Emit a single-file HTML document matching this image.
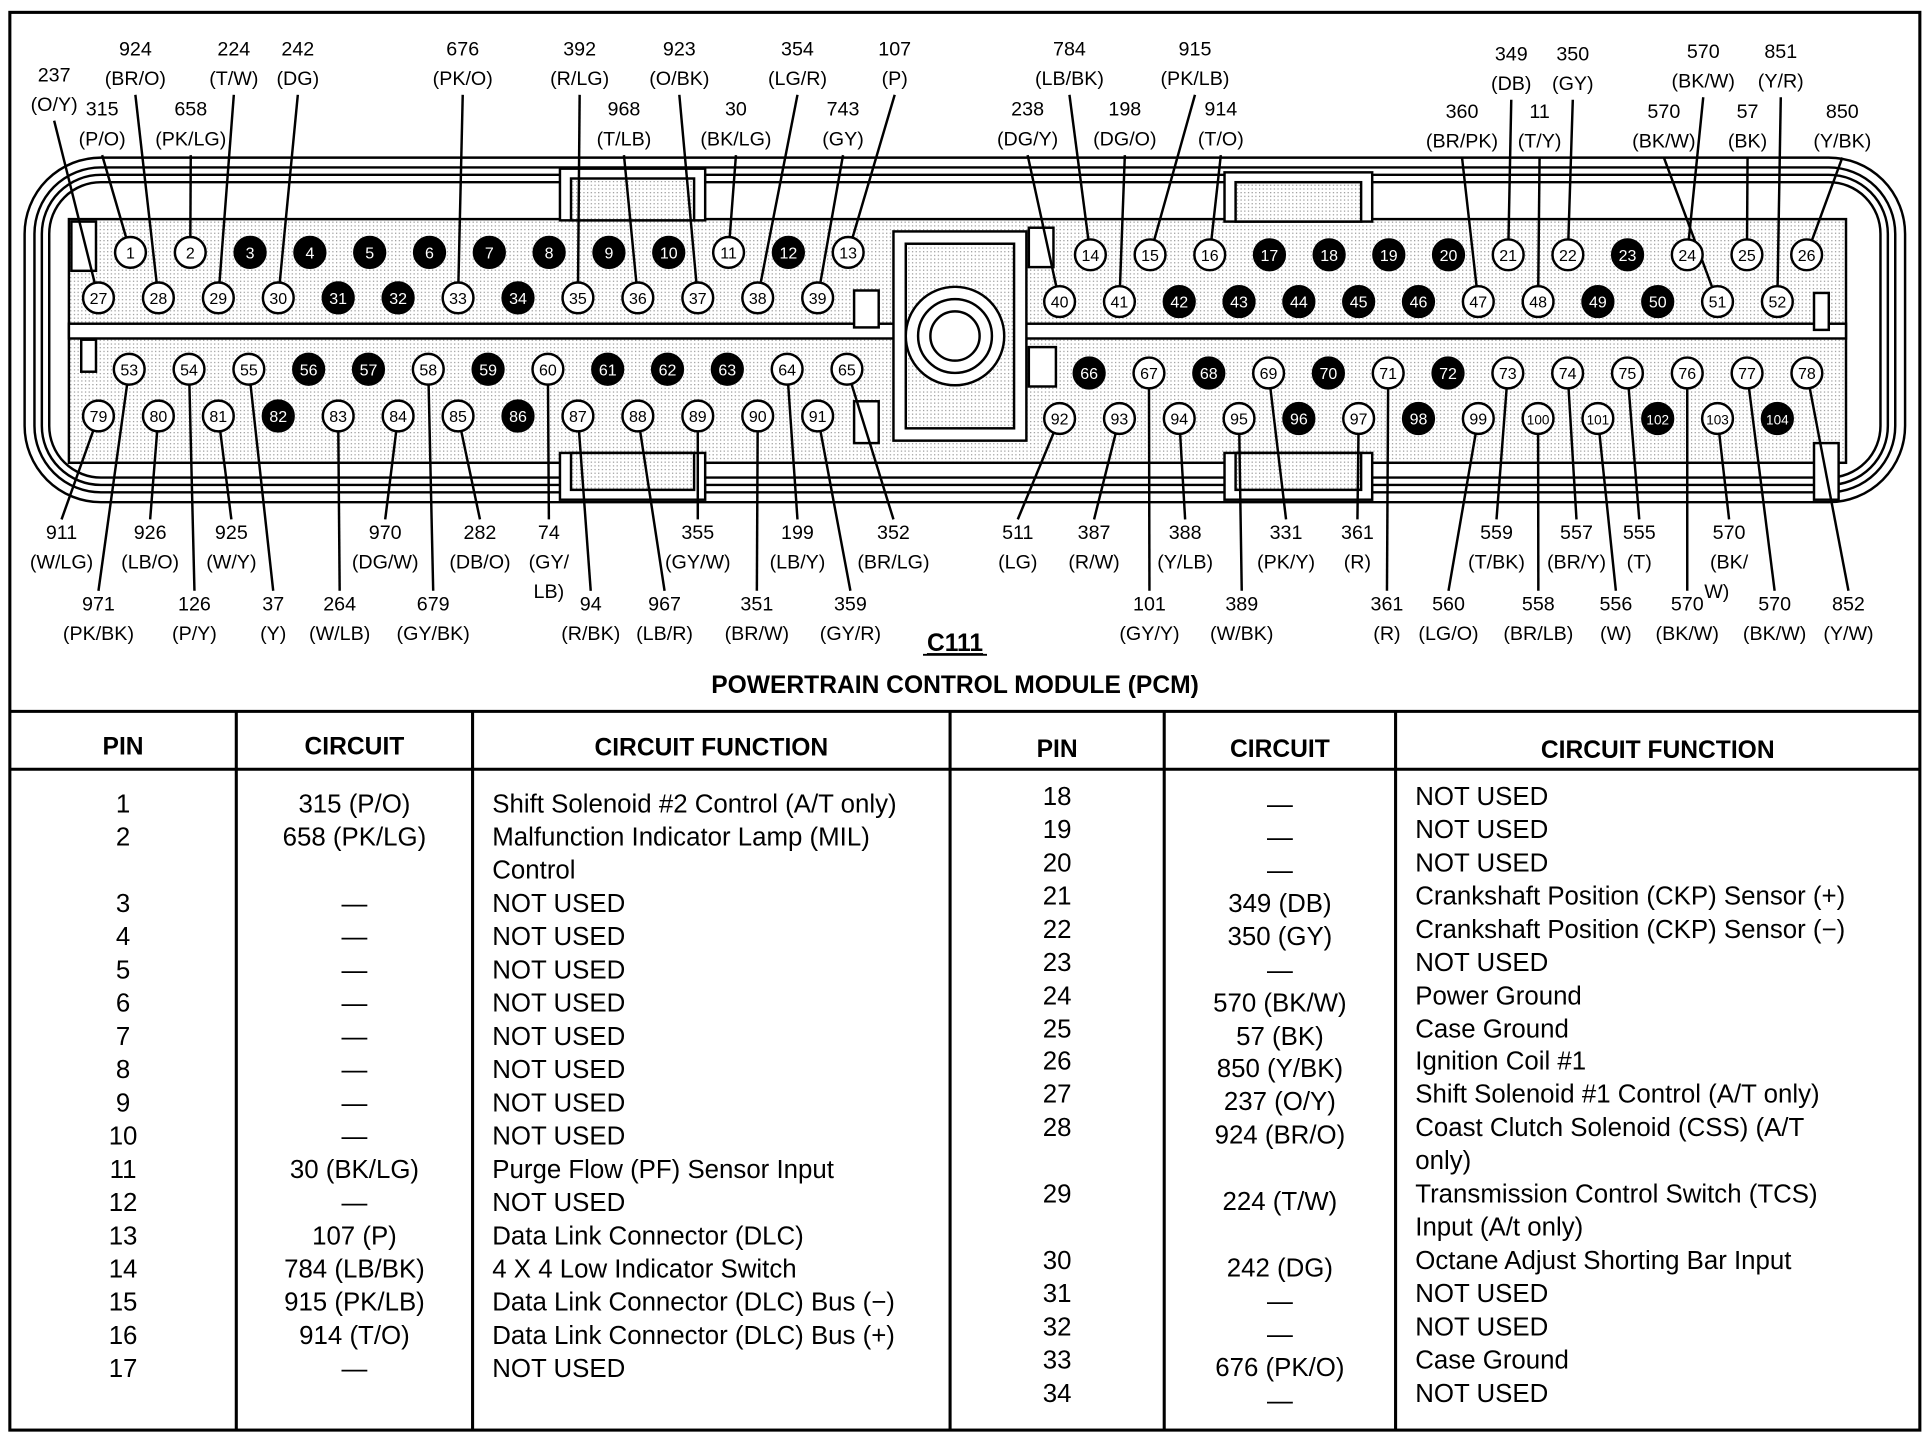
<!DOCTYPE html>
<html><head><meta charset="utf-8">
<style>
html,body{margin:0;padding:0;background:#fff;}
svg{display:block;}
text{font-family:"Liberation Sans",Arial,sans-serif;fill:#000;}
</style></head>
<body>
<svg id="s" width="1926" height="1440" viewBox="0 0 1565 1170" xmlns="http://www.w3.org/2000/svg">
<defs>
<pattern id="dots" width="3" height="3" patternUnits="userSpaceOnUse"><rect width="3" height="3" fill="#fff"/><rect width="1" height="1" fill="#999"/></pattern>
</defs>
<rect x="8" y="10" width="1552" height="1152" fill="none" stroke="#000" stroke-width="2.5"/>
<!-- connector body -->
<g fill="none" stroke="#000" stroke-width="2">
<rect x="20" y="128" width="1528" height="280" rx="62" fill="#fff"/>
<rect x="28" y="136" width="1512" height="264" rx="54"/>
<rect x="34" y="142" width="1500" height="252" rx="48"/>
<rect x="40" y="148" width="1488" height="240" rx="42"/>
<rect x="56" y="178" width="1444" height="198" fill="url(#dots)"/>
<rect x="56" y="263" width="1444" height="12" fill="#fff"/>
<rect x="726" y="188" width="108" height="170" fill="#fff"/>
<rect x="736" y="198" width="88" height="150" fill="url(#dots)"/>
<circle cx="776" cy="273" r="40" fill="#fff"/>
<circle cx="776" cy="273" r="30"/>
<circle cx="776" cy="273" r="20"/>
<rect x="455" y="137" width="118" height="42" fill="#fff"/>
<rect x="464" y="145" width="100" height="34" fill="url(#dots)"/>
<rect x="995" y="140" width="120" height="40" fill="#fff"/>
<rect x="1004" y="148" width="102" height="32" fill="url(#dots)"/>
<rect x="455" y="368" width="118" height="38" fill="#fff"/>
<rect x="464" y="368" width="100" height="30" fill="url(#dots)"/>
<rect x="995" y="368" width="120" height="38" fill="#fff"/>
<rect x="1004" y="368" width="102" height="30" fill="url(#dots)"/>
<rect x="58" y="180" width="20" height="40" fill="#fff"/>
<rect x="66" y="276" width="12" height="26" fill="#fff"/>
<rect x="836" y="185" width="20" height="32" fill="#fff"/>
<rect x="836" y="282" width="22" height="32" fill="#fff"/>
<rect x="694" y="236" width="20" height="30" fill="#fff"/>
<rect x="694" y="326" width="20" height="34" fill="#fff"/>
<rect x="1474" y="238" width="12" height="30" fill="#fff"/>
<rect x="1474" y="360" width="20" height="46" fill="#fff"/>
</g>
<g id="lines" stroke="#000" stroke-width="2" fill="none"></g>
<g id="pins"></g>
<g id="labels" font-size="16" text-anchor="middle"></g>
<text x="776" y="529" font-size="20" font-weight="bold" text-anchor="middle" text-decoration="underline">C111</text>
<line x1="750" y1="532" x2="802" y2="532" stroke="#000" stroke-width="1.5"/>
<text x="776" y="563" font-size="20" font-weight="bold" text-anchor="middle">POWERTRAIN CONTROL MODULE (PCM)</text>
<!-- table -->
<g stroke="#000" stroke-width="2.5">
<line x1="8" y1="578" x2="1560" y2="578"/>
<line x1="8" y1="625" x2="1560" y2="625"/>
<line x1="192" y1="578" x2="192" y2="1162"/>
<line x1="384" y1="578" x2="384" y2="1162"/>
<line x1="772" y1="578" x2="772" y2="1162"/>
<line x1="946" y1="578" x2="946" y2="1162"/>
<line x1="1134" y1="578" x2="1134" y2="1162"/>
</g>
<g font-size="20" font-weight="bold" text-anchor="middle">
<text x="100" y="613">PIN</text><text x="288" y="613">CIRCUIT</text><text x="578" y="614">CIRCUIT FUNCTION</text>
<text x="859" y="615">PIN</text><text x="1040" y="615">CIRCUIT</text><text x="1347" y="616">CIRCUIT FUNCTION</text>
</g>
<g id="tbl" font-size="21"></g>
</svg>
<script>
var NS="http://www.w3.org/2000/svg";
function el(p,t,a,txt){var e=document.createElementNS(NS,t);for(var k in a)e.setAttribute(k,a[k]);if(txt!==undefined)e.textContent=txt;p.appendChild(e);return e;}
function pos(n){
 if(n<=13)return[106+(n-1)*48.6,205];
 if(n<=26)return[886+(n-14)*48.5,207];
 if(n<=39)return[80+(n-27)*48.7,242];
 if(n<=52)return[861+(n-40)*48.6,245];
 if(n<=65)return[105+(n-53)*48.6,300];
 if(n<=78)return[885+(n-66)*48.6,303];
 if(n<=91)return[80+(n-79)*48.7,338];
 return[861+(n-92)*48.6,340];}
var black=[3,4,5,6,7,8,9,10,12,17,18,19,20,23,31,32,34,42,43,44,45,46,49,50,56,57,59,61,62,63,66,68,70,72,82,86,96,98,102,104];
var L=[
["237","(O/Y)",44,66,27,1],["924","(BR/O)",110,45,28,1],["315","(P/O)",83,94,1,1],["658","(PK/LG)",155,94,2,1],
["224","(T/W)",190,45,29,1],["242","(DG)",242,45,30,1],["676","(PK/O)",376,45,33,1],["392","(R/LG)",471,45,35,1],
["968","(T/LB)",507,94,36,1],["923","(O/BK)",552,45,37,1],["30","(BK/LG)",598,94,11,1],["354","(LG/R)",648,45,38,1],
["743","(GY)",685,94,39,1],["107","(P)",727,45,13,1],["784","(LB/BK)",869,45,14,1],["238","(DG/Y)",835,94,40,1],
["198","(DG/O)",914,94,41,1],["915","(PK/LB)",971,45,15,1],["914","(T/O)",992,94,16,1],["349","(DB)",1228,49,21,1],
["350","(GY)",1278,49,22,1],["360","(BR/PK)",1188,96,47,1],["11","(T/Y)",1251,96,48,1],["570","(BK/W)",1384,47,24,1],
["851","(Y/R)",1447,47,52,1],["570","(BK/W)",1352,96,51,1],["57","(BK)",1420,96,25,1],["850","(Y/BK)",1497,96,26,1],
["911","(W/LG)",50,438,79,0],["926","(LB/O)",122,438,80,0],["925","(W/Y)",188,438,81,0],["971","(PK/BK)",80,496,53,0],
["126","(P/Y)",158,496,54,0],["37","(Y)",222,496,55,0],["264","(W/LB)",276,496,83,0],["970","(DG/W)",313,438,84,0],
["679","(GY/BK)",352,496,58,0],["282","(DB/O)",390,438,85,0],["74","(GY/",446,438,60,0],["94","(R/BK)",480,496,87,0],
["967","(LB/R)",540,496,88,0],["355","(GY/W)",567,438,89,0],["351","(BR/W)",615,496,90,0],["199","(LB/Y)",648,438,64,0],
["359","(GY/R)",691,496,91,0],["352","(BR/LG)",726,438,65,0],["511","(LG)",827,438,92,0],["387","(R/W)",889,438,93,0],
["388","(Y/LB)",963,438,94,0],["101","(GY/Y)",934,496,67,0],["389","(W/BK)",1009,496,95,0],["331","(PK/Y)",1045,438,69,0],
["361","(R)",1103,438,97,0],["361","(R)",1127,496,71,0],["560","(LG/O)",1177,496,99,0],["559","(T/BK)",1216,438,73,0],
["558","(BR/LB)",1250,496,100,0],["557","(BR/Y)",1281,438,74,0],["556","(W)",1313,496,101,0],["555","(T)",1332,438,75,0],
["570","(BK/",1405,438,103,0],["570","(BK/W)",1371,496,76,0],["570","(BK/W)",1442,496,77,0],["852","(Y/W)",1502,496,78,0]];
var lg=document.getElementById("lines"),lb=document.getElementById("labels"),pg=document.getElementById("pins");
L.forEach(function(a){var p=pos(a[4]);var x=a[2],y=a[3];
 el(lb,"text",{x:x,y:y},a[0]);el(lb,"text",{x:x,y:y+24},a[1]);
 if(a[0]=="74"&&a[1]=="(GY/")el(lb,"text",{x:x,y:y+48},"LB)");
 if(a[1]=="(BK/")el(lb,"text",{x:x-10,y:y+48},"W)");
 var sy=a[5]?y+32:y-16;
 el(lg,"line",{x1:x,y1:sy,x2:p[0],y2:p[1]});});
for(var n=1;n<=104;n++){var p=pos(n);var b=black.indexOf(n)>=0;
 el(pg,"circle",{cx:p[0],cy:p[1],r:12.5,fill:b?"#000":"#fff",stroke:"#000","stroke-width":2});
 el(pg,"text",{x:p[0],y:p[1]+5,"font-size":n>99?11:13,"text-anchor":"middle",fill:b?"#fff":"#000",style:"fill:"+(b?"#fff":"#000")},n);}
var tg=document.getElementById("tbl");
var left=[[653,"1","315 (P/O)","Shift Solenoid #2 Control (A/T only)"],[680,"2","658 (PK/LG)","Malfunction Indicator Lamp (MIL)"],[707,"","","Control"],
[734,"3","—","NOT USED"],[761,"4","—","NOT USED"],[788,"5","—","NOT USED"],[815,"6","—","NOT USED"],[842,"7","—","NOT USED"],
[869,"8","—","NOT USED"],[896,"9","—","NOT USED"],[923,"10","—","NOT USED"],[950,"11","30 (BK/LG)","Purge Flow (PF) Sensor Input"],
[977,"12","—","NOT USED"],[1004,"13","107 (P)","Data Link Connector (DLC)"],[1031,"14","784 (LB/BK)","4 X 4 Low Indicator Switch"],
[1058,"15","915 (PK/LB)","Data Link Connector (DLC) Bus (−)"],[1085,"16","914 (T/O)","Data Link Connector (DLC) Bus (+)"],[1112,"17","—","NOT USED"]];
left.forEach(function(r){var y=r[0]+7;el(tg,"text",{x:100,y:y,"text-anchor":"middle"},r[1]);el(tg,"text",{x:288,y:y,"text-anchor":"middle"},r[2]);el(tg,"text",{x:400,y:y},r[3]);});
var right=[[647,"18","—","NOT USED"],[674,"19","—","NOT USED"],[701,"20","—","NOT USED"],[728,"21","349 (DB)","Crankshaft Position (CKP) Sensor (+)"],
[755,"22","350 (GY)","Crankshaft Position (CKP) Sensor (−)"],[782,"23","—","NOT USED"],[809,"24","570 (BK/W)","Power Ground"],[836,"25","57 (BK)","Case Ground"],
[862,"26","850 (Y/BK)","Ignition Coil #1"],[889,"27","237 (O/Y)","Shift Solenoid #1 Control (A/T only)"],[916,"28","924 (BR/O)","Coast Clutch Solenoid (CSS) (A/T"],
[943,"","","only)"],[970,"29","224 (T/W)","Transmission Control Switch (TCS)"],[997,"","","Input (A/t only)"],[1024,"30","242 (DG)","Octane Adjust Shorting Bar Input"],
[1051,"31","—","NOT USED"],[1078,"32","—","NOT USED"],[1105,"33","676 (PK/O)","Case Ground"],[1132,"34","—","NOT USED"]];
right.forEach(function(r){var y=r[0]+7;el(tg,"text",{x:859,y:y,"text-anchor":"middle"},r[1]);el(tg,"text",{x:1040,y:y+6,"text-anchor":"middle"},r[2]);el(tg,"text",{x:1150,y:y},r[3]);});
</script>
</body></html>
